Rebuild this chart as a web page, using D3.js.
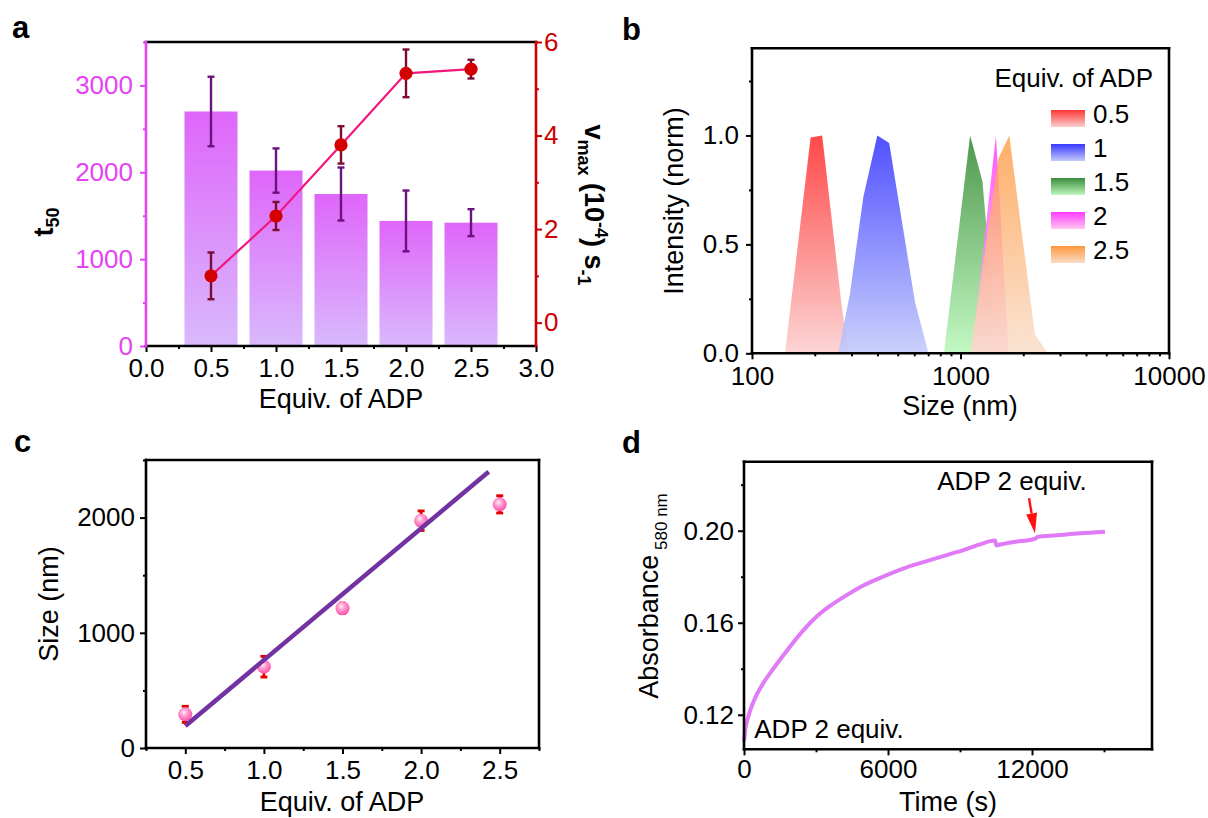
<!DOCTYPE html>
<html>
<head>
<meta charset="utf-8">
<script src="https://cdn.jsdelivr.net/npm/d3@7"></script>
<style>
  body { margin: 0; background: #fff; }
  text { font-family: "Liberation Sans", Arial, Helvetica, sans-serif; }
</style>
</head>
<body>
<svg id="fig" width="1208" height="818"></svg>
<script>
// ---------- panel a: t50 bars + vmax line ----------
const equivA = [0.5, 1.0, 1.5, 2.0, 2.5];
const t50 = [2700, 2020, 1750, 1440, 1420];
const t50Err = [400, 255, 305, 350, 155];
const vmax = [1.0, 2.28, 3.80, 5.33, 5.42];
const vmaxErr = [0.50, 0.30, 0.40, 0.51, 0.20];
const ticksAx = [0, 0.5, 1, 1.5, 2, 2.5, 3];
const ticksAxMinor = [0.25, 0.75, 1.25, 1.75, 2.25, 2.75];
const ticksAleft = [0, 1000, 2000, 3000];
const ticksAleftMinor = [500, 1500, 2500, 3500];
const ticksAright = [0, 2, 4, 6];
const ticksArightMinor = [1, 3, 5];

// ---------- panel b: DLS size distributions ----------
const dlsLabels = ["0.5", "1", "1.5", "2", "2.5"];
const dlsSize05 = [144, 191, 217, 269, 290];
const dlsInt05  = [0, 0.99, 1.0, 0.22, 0];
const dlsSize10 = [259, 295, 342, 399, 455, 605, 702];
const dlsInt10  = [0, 0.275, 0.717, 1.0, 0.965, 0.236, 0];
const dlsSize15 = [833, 1112, 1274, 1500];
const dlsInt15  = [0, 1.0, 0.79, 0];
const dlsSize20 = [1132, 1479, 1700];
const dlsInt20  = [0, 1.0, 0];
const dlsSize25 = [1115, 1517, 1714, 2276, 2635];
const dlsInt25  = [0, 0.893, 1.0, 0.084, 0];
const ticksBx = [100, 1000, 10000];
const ticksBxMinor = [200, 300, 400, 500, 600, 700, 800, 900, 2000, 3000, 4000, 5000, 6000, 7000, 8000, 9000];
const ticksBy = [0, 0.5, 1.0];
const ticksByMinor = [0.25, 0.75, 1.25];

// ---------- panel c: size vs equivalents ----------
const equivC = [0.5, 1.0, 1.5, 2.0, 2.5];
const sizeC = [292, 706, 1213, 1973, 2115];
const sizeCErr = [70, 90, 45, 85, 75];
const fitEquiv = [0.5, 2.43];
const fitSize = [191, 2398];
const ticksCx = [0.5, 1.0, 1.5, 2.0, 2.5];
const ticksCxMinor = [0.25, 0.75, 1.25, 1.75, 2.25, 2.75];
const ticksCy = [0, 1000, 2000];
const ticksCyMinor = [500, 1500, 2500];

// ---------- panel d: absorbance kinetics ----------
const timeD = [0, 60, 180, 390, 806, 1150, 1500, 1850, 2194, 2611, 3028, 3583, 4278, 4972, 5944,
  6778, 7750, 8444, 9139, 9833, 10458, 10520, 10600, 11250, 12056, 12150, 12222, 13028, 14000, 15042];
const absD = [0.1084, 0.1140, 0.1193, 0.1255, 0.1338, 0.1390, 0.1439, 0.1487, 0.1533, 0.1583, 0.1627,
  0.1673, 0.1720, 0.1762, 0.1807, 0.1841, 0.1872, 0.1894, 0.1916, 0.1941, 0.1957, 0.1936, 0.1938,
  0.1951, 0.1963, 0.1966, 0.1973, 0.1980, 0.1989, 0.1996];
const ticksDx = [0, 6000, 12000];
const ticksDxMinor = [3000, 9000, 15000];
const ticksDy = [0.12, 0.16, 0.20];
const ticksDyMinor = [0.14, 0.18, 0.22];

const TICK = 26, TITLE = 27;
const svg = d3.select("#fig");
svg.append("rect").attr("width", 1208).attr("height", 818).attr("fill", "#fff");
const defs = svg.append("defs");

function vGrad(id, top, bottom, units, y1, y2) {
  const g = defs.append("linearGradient").attr("id", id)
    .attr("x1", 0).attr("x2", 0);
  if (units) g.attr("gradientUnits", "userSpaceOnUse").attr("y1", y1).attr("y2", y2);
  else g.attr("y1", 0).attr("y2", 1);
  g.append("stop").attr("offset", "0%").attr("stop-color", top);
  g.append("stop").attr("offset", "100%").attr("stop-color", bottom);
}

// axis with major + minor ticks, no domain line
function axis(x, y, gen, scale, majors, minors, fmt, color, pad) {
  const g = svg.append("g").attr("transform", `translate(${x},${y})`);
  g.append("g").call(gen(scale).tickValues(majors).tickFormat(fmt)
    .tickSize(6).tickSizeOuter(0).tickPadding(pad));
  g.append("g").call(gen(scale).tickValues(minors).tickFormat("")
    .tickSize(3).tickSizeOuter(0));
  g.selectAll(".domain").remove();
  g.selectAll(".tick line").attr("stroke", color).attr("stroke-width", 2);
  g.selectAll(".tick text").attr("fill", color).attr("font-size", TICK)
    .attr("font-family", '"Liberation Sans", Arial, sans-serif');
  return g;
}
function line(x1, y1, x2, y2, color, w) {
  svg.append("line").attr("x1", x1).attr("y1", y1).attr("x2", x2).attr("y2", y2)
    .attr("stroke", color).attr("stroke-width", w || 2.6).attr("stroke-linecap", "square");
}
function label(txt, x, y, opts = {}) {
  return svg.append("text").attr("x", x).attr("y", y).text(txt)
    .attr("font-size", opts.size || TITLE).attr("fill", opts.fill || "#000")
    .attr("font-weight", opts.weight || "normal")
    .attr("text-anchor", opts.anchor || "middle");
}
const fmtNum = d => d3.format(".1f")(d);

// ============ PANEL A ============
const xA = d3.scaleLinear([0, 3], [146, 536]);
const yA = d3.scaleLinear([0, 3500], [346, 42]);
const yA2 = d3.scaleLinear([-0.5, 6], [346, 42]);
const MAG = "#e444f2", RED = "#cc0000";
vGrad("barGrad", "#df66fa", "#d9b9fc");

svg.append("g").selectAll("rect").data(equivA).join("rect")
  .attr("x", d => xA(d - 0.204)).attr("width", xA(0.408) - xA(0))
  .attr("y", (d, i) => yA(t50[i])).attr("height", (d, i) => yA(0) - yA(t50[i]))
  .attr("fill", "url(#barGrad)");

const errA = svg.append("g").attr("stroke", "#6c1280").attr("stroke-width", 2.4);
equivA.forEach((d, i) => {
  const cx = xA(d), lo = yA(t50[i] - t50Err[i]), hi = yA(t50[i] + t50Err[i]);
  errA.append("line").attr("x1", cx).attr("x2", cx).attr("y1", lo).attr("y2", hi);
  errA.append("line").attr("x1", cx - 3.5).attr("x2", cx + 3.5).attr("y1", lo).attr("y2", lo);
  errA.append("line").attr("x1", cx - 3.5).attr("x2", cx + 3.5).attr("y1", hi).attr("y2", hi);
});

svg.append("path").datum(equivA)
  .attr("d", d3.line().x(d => xA(d)).y((d, i) => yA2(vmax[i])))
  .attr("fill", "none").attr("stroke", "#f2177e").attr("stroke-width", 2.2);
const errA2 = svg.append("g").attr("stroke", "#7a0e32").attr("stroke-width", 2.4);
equivA.forEach((d, i) => {
  const cx = xA(d), lo = yA2(vmax[i] - vmaxErr[i]), hi = yA2(vmax[i] + vmaxErr[i]);
  errA2.append("line").attr("x1", cx).attr("x2", cx).attr("y1", lo).attr("y2", hi);
  errA2.append("line").attr("x1", cx - 3.5).attr("x2", cx + 3.5).attr("y1", lo).attr("y2", lo);
  errA2.append("line").attr("x1", cx - 3.5).attr("x2", cx + 3.5).attr("y1", hi).attr("y2", hi);
});
svg.append("g").selectAll("circle").data(equivA).join("circle")
  .attr("cx", d => xA(d)).attr("cy", (d, i) => yA2(vmax[i])).attr("r", 6.6)
  .attr("fill", "#d40000");

axis(0, 346, d3.axisBottom, xA, ticksAx, ticksAxMinor, fmtNum, "#000", 7);
axis(146, 0, d3.axisLeft, yA, ticksAleft, ticksAleftMinor, d3.format("d"), MAG, 7);
axis(536, 0, d3.axisRight, yA2, ticksAright, ticksArightMinor, d3.format("d"), RED, 2);
line(146, 42, 536, 42, "#000");
line(146, 346, 536, 346, "#000");
line(146, 42, 146, 346, MAG);
line(536, 42, 536, 346, RED);

label("Equiv. of ADP", 341, 408);
{
  const t = svg.append("text").attr("transform", "translate(53,222) rotate(-90)")
    .attr("text-anchor", "middle").attr("font-weight", "bold").attr("font-size", TITLE);
  t.append("tspan").text("t");
  t.append("tspan").text("50").attr("font-size", 18).attr("dy", 6);
}
{
  const t = svg.append("text").attr("transform", "translate(585,205) rotate(90)")
    .attr("text-anchor", "middle").attr("font-weight", "bold").attr("font-size", TITLE);
  t.append("tspan").text("v");
  t.append("tspan").text("max").attr("font-size", 18).attr("dy", 7);
  t.append("tspan").text(" (10").attr("dy", -7);
  t.append("tspan").text("-4").attr("font-size", 18).attr("dy", -10);
  t.append("tspan").text(") s").attr("dy", 10);
  t.append("tspan").text("-1").attr("font-size", 18).attr("dy", 7);
}
label("a", 12, 38, { size: 31, weight: "bold", anchor: "start" });

// ============ PANEL B ============
const xB = d3.scaleLog([100, 10000], [752, 1169]);
const yB = d3.scaleLinear([0, 1.4], [353.3, 48.3]);
const dlsSeries = [
  { size: dlsSize05, int: dlsInt05, top: "#ff3535", bot: "#fbd0d0", op: 0.9 },
  { size: dlsSize10, int: dlsInt10, top: "#3838ff", bot: "#c3cbfb", op: 0.88 },
  { size: dlsSize15, int: dlsInt15, top: "#3a8c3a", bot: "#bdf8bd", op: 0.9 },
  { size: dlsSize20, int: dlsInt20, top: "#ff3cff", bot: "#ffc6ee", op: 0.85 },
  { size: dlsSize25, int: dlsInt25, top: "#ff973c", bot: "#f9dcc8", op: 0.78 }
];
dlsSeries.forEach((s, k) => {
  vGrad("dls" + k, s.top, s.bot, true, yB(1.0), yB(0));
  vGrad("leg" + k, s.top, s.bot);
});
const areaB = d3.area().x(d => xB(d[0])).y0(yB(0)).y1(d => yB(d[1]));
svg.append("g").selectAll("path").data(dlsSeries).join("path")
  .attr("d", s => areaB(s.size.map((v, i) => [v, s.int[i]])))
  .attr("fill", (s, k) => `url(#dls${k})`).attr("fill-opacity", s => s.op);

axis(0, 353.3, d3.axisBottom, xB, ticksBx, ticksBxMinor, d3.format("d"), "#000", 7);
axis(752, 0, d3.axisLeft, yB, ticksBy, ticksByMinor, fmtNum, "#000", 7);
line(752, 48.3, 1169, 48.3, "#000");
line(752, 353.3, 1169, 353.3, "#000");
line(752, 48.3, 752, 353.3, "#000");
line(1169, 48.3, 1169, 353.3, "#000");

label("Equiv. of ADP", 1153, 87, { size: TICK, anchor: "end" });
const legB = svg.append("g");
dlsLabels.forEach((lab, k) => {
  const y = 110 + k * 34;
  legB.append("rect").attr("x", 1051).attr("y", y).attr("width", 34).attr("height", 17)
    .attr("fill", `url(#leg${k})`);
  legB.append("text").attr("x", 1093).attr("y", y + 13).text(lab).attr("font-size", TICK);
});
label("Size (nm)", 960, 415);
svg.append("text").attr("transform", "translate(683,201) rotate(-90)")
  .attr("text-anchor", "middle").attr("font-size", TITLE).text("Intensity (norm)");
label("b", 622, 40, { size: 31, weight: "bold", anchor: "start" });

// ============ PANEL C ============
const xC = d3.scaleLinear([0.25, 2.75], [146, 539]);
const yC = d3.scaleLinear([0, 2500], [748, 460]);
const pg = defs.append("radialGradient").attr("id", "ball")
  .attr("cx", "45%").attr("cy", "40%").attr("r", "60%").attr("fx", "40%").attr("fy", "35%");
pg.append("stop").attr("offset", "0%").attr("stop-color", "#fff0f8");
pg.append("stop").attr("offset", "40%").attr("stop-color", "#ffa0d3");
pg.append("stop").attr("offset", "100%").attr("stop-color", "#ff4fa8");

const errC = svg.append("g").attr("stroke", "#e00000").attr("stroke-width", 2.8);
equivC.forEach((d, i) => {
  const cx = xC(d), lo = yC(sizeC[i] - sizeCErr[i]), hi = yC(sizeC[i] + sizeCErr[i]);
  errC.append("line").attr("x1", cx).attr("x2", cx).attr("y1", lo).attr("y2", hi);
  errC.append("line").attr("x1", cx - 3.5).attr("x2", cx + 3.5).attr("y1", lo).attr("y2", lo);
  errC.append("line").attr("x1", cx - 3.5).attr("x2", cx + 3.5).attr("y1", hi).attr("y2", hi);
});
svg.append("g").selectAll("circle").data(equivC).join("circle")
  .attr("cx", d => xC(d)).attr("cy", (d, i) => yC(sizeC[i])).attr("r", 7)
  .attr("fill", "url(#ball)");
svg.append("path").datum(fitEquiv)
  .attr("d", d3.line().x(d => xC(d)).y((d, i) => yC(fitSize[i])))
  .attr("stroke", "#7232a2").attr("stroke-width", 4.5).attr("fill", "none");

axis(0, 748, d3.axisBottom, xC, ticksCx, ticksCxMinor, fmtNum, "#000", 7);
axis(146, 0, d3.axisLeft, yC, ticksCy, ticksCyMinor, d3.format("d"), "#000", 5);
line(146, 460, 539, 460, "#000");
line(146, 748, 539, 748, "#000");
line(146, 460, 146, 748, "#000");
line(539, 460, 539, 748, "#000");
label("Equiv. of ADP", 342, 811);
svg.append("text").attr("transform", "translate(58,604) rotate(-90)")
  .attr("text-anchor", "middle").attr("font-size", TITLE).text("Size (nm)");
label("c", 14, 452, { size: 31, weight: "bold", anchor: "start" });

// ============ PANEL D ============
const xD = d3.scaleLinear([0, 17000], [744, 1152]);
const yD = d3.scaleLinear([0.105, 0.23], [749.3, 461.7]);
svg.append("path").datum(timeD)
  .attr("d", d3.line().x(d => xD(d)).y((d, i) => yD(absD[i])).curve(d3.curveMonotoneX))
  .attr("fill", "none").attr("stroke", "#e07af6").attr("stroke-width", 4)
  .attr("stroke-linejoin", "round");

axis(0, 749.3, d3.axisBottom, xD, ticksDx, ticksDxMinor, d3.format("d"), "#000", 4);
axis(744, 0, d3.axisLeft, yD, ticksDy, ticksDyMinor, d3.format(".2f"), "#000", 4);
line(744, 461.7, 1152, 461.7, "#000");
line(744, 749.3, 1152, 749.3, "#000");
line(744, 461.7, 744, 749.3, "#000");
line(1152, 461.7, 1152, 749.3, "#000");

label("ADP 2 equiv.", xD(8054), yD(0.2177), { size: TICK, anchor: "start" });
label("ADP 2 equiv.", xD(429), yD(0.1099), { size: TICK, anchor: "start" });
{
  // red arrow marking the second addition
  const x0 = xD(11875), y0 = yD(0.2141), x1 = xD(12125), y1 = yD(0.1989);
  const ang = Math.atan2(y1 - y0, x1 - x0), L = 20, Wd = 5.5;
  const bx = x1 - L * Math.cos(ang), by = y1 - L * Math.sin(ang);
  svg.append("line").attr("x1", x0).attr("y1", y0).attr("x2", bx).attr("y2", by)
    .attr("stroke", "#ff1010").attr("stroke-width", 2.4);
  const px = -Math.sin(ang), py = Math.cos(ang);
  svg.append("path").attr("fill", "#ff1010")
    .attr("d", `M${x1},${y1}L${bx + Wd * px},${by + Wd * py}L${bx - Wd * px},${by - Wd * py}Z`);
}
label("Time (s)", 948, 811);
{
  const t = svg.append("text").attr("transform", "translate(658,596) rotate(-90)")
    .attr("text-anchor", "middle").attr("font-size", TITLE);
  t.append("tspan").text("Absorbance");
  t.append("tspan").text(" 580 nm").attr("font-size", 17).attr("dy", 9);
}
label("d", 622, 453, { size: 31, weight: "bold", anchor: "start" });
</script>
</body>
</html>
